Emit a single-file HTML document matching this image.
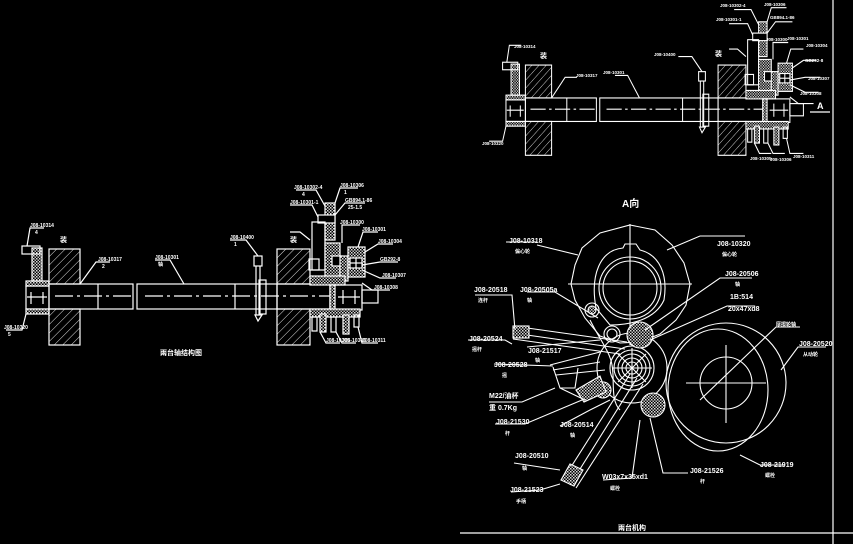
<!DOCTYPE html>
<html><head><meta charset="utf-8"><style>
html,body{margin:0;padding:0;background:#000;width:853px;height:544px;overflow:hidden}
svg{display:block}
text{font-family:"Liberation Sans","Noto Sans CJK SC",sans-serif;fill:#fff;font-weight:bold}
</style></head><body>
<svg width="853" height="544" viewBox="0 0 853 544" xmlns="http://www.w3.org/2000/svg">
<defs>
<pattern id="h" width="6" height="6" patternUnits="userSpaceOnUse" patternTransform="rotate(45)">
<line x1="0" y1="0" x2="0" y2="6" stroke="#fff" stroke-width="0.9"/></pattern>
<pattern id="x" width="3" height="3" patternUnits="userSpaceOnUse">
<rect width="3" height="3" fill="#000"/><rect width="1.5" height="1.5" fill="#ddd"/><rect x="1.5" y="1.5" width="1.5" height="1.5" fill="#bbb"/></pattern>
<g id="asm" stroke="#fff" stroke-width="1.2" fill="none">
<rect x="26" y="286" width="23" height="23"/>
<rect x="26" y="281" width="23" height="5" fill="url(#x)"/>
<rect x="26" y="309" width="23" height="5" fill="url(#x)"/>
<rect x="32" y="248" width="10" height="33" fill="url(#x)"/>
<rect x="22" y="246" width="18" height="8"/>
<line x1="31" y1="292" x2="31" y2="304"/><line x1="43" y1="292" x2="43" y2="304"/>
<line x1="27" y1="297" x2="47" y2="297"/>
<rect x="49" y="249" width="31" height="35" fill="url(#h)"/>
<rect x="49" y="309" width="31" height="36" fill="url(#h)"/>
<rect x="49" y="284" width="84" height="25"/>
<line x1="98" y1="284" x2="98" y2="309"/>
<rect x="137" y="284" width="140" height="25"/>
<line x1="235" y1="284" x2="235" y2="309"/>
<line x1="55" y1="296" x2="135" y2="296" stroke-dasharray="18 4 3 4"/>
<line x1="145" y1="296" x2="330" y2="296" stroke-dasharray="18 4 3 4"/>
<rect x="254" y="256" width="8" height="10"/>
<line x1="256" y1="266" x2="256" y2="315"/><line x1="260" y1="266" x2="260" y2="315"/>
<rect x="259" y="280" width="7" height="34"/>
<path d="M255 315 L262 315 L258 321 Z"/>
<rect x="277" y="249" width="33" height="35" fill="url(#h)"/>
<rect x="277" y="309" width="33" height="36" fill="url(#h)"/>
<rect x="277" y="284" width="53" height="25"/>
<rect x="325" y="203" width="10" height="37" fill="url(#x)"/>
<rect x="318" y="215" width="17" height="8" fill="#000"/>
<rect x="312" y="222" width="13" height="48"/>
<rect x="309" y="259" width="10" height="11"/>
<rect x="325" y="243" width="15" height="40" fill="url(#x)"/>
<rect x="332" y="256" width="10" height="10" fill="#000"/>
<rect x="340" y="256" width="8" height="25" fill="url(#x)"/>
<rect x="348" y="247" width="17" height="30" fill="url(#x)"/>
<rect x="350" y="258" width="12" height="10" fill="#000"/>
<line x1="356" y1="258" x2="356" y2="268"/><line x1="350" y1="263" x2="362" y2="263"/>
<rect x="310" y="276" width="35" height="9" fill="url(#x)"/>
<rect x="330" y="285" width="32" height="25"/>
<rect x="330" y="285" width="5" height="25" fill="url(#x)"/>
<rect x="362" y="290" width="16" height="13"/>
<line x1="343" y1="290" x2="343" y2="304"/><line x1="355" y1="290" x2="355" y2="304"/>
<line x1="338" y1="297" x2="360" y2="297"/>
<rect x="310" y="309" width="50" height="8" fill="url(#x)"/>
<rect x="312" y="317" width="5" height="14"/><rect x="320" y="314" width="6" height="18" fill="url(#x)"/>
<rect x="331" y="317" width="5" height="15"/><rect x="343" y="315" width="6" height="19" fill="url(#x)"/>
<rect x="354" y="315" width="5" height="12"/>
<path d="M26 314 L22 330 L6 330"/>
<path d="M27 246 L30 228 L44 228"/>
<path d="M80 284 L96 262 L110 262"/>
<path d="M184 284 L170 260 L155 260"/>
<path d="M258 256 L246 240 L230 240"/>
<path d="M325 206 L316 190 L296 190"/>
<path d="M318 217 L312 205 L290 205"/>
<path d="M335 203 L340 188 L358 188"/>
<path d="M335 215 L345 203 L365 203"/>
<path d="M342 243 L342 225 L360 225"/>
<path d="M358 247 L363 232 L378 232"/>
<path d="M365 252 L378 244 L393 244"/>
<path d="M362 265 L380 262 L398 262"/>
<path d="M362 270 L380 278 L396 278"/>
<path d="M362 283 L372 290 L390 290"/>
<path d="M320 332 L326 343 L340 343"/>
<path d="M336 332 L342 343 L356 343"/>
<path d="M358 327 L362 343 L378 343"/>
<path d="M310 240 L300 232 L290 232"/>
</g>
</defs>

<use href="#asm"/>
<g fill="#fff" font-size="5">
<text x="30" y="227">J08-10314</text><text x="35" y="234">4</text>
<text x="4" y="329">J08-10320</text><text x="8" y="336">5</text>
<text x="98" y="261">J08-10317</text><text x="102" y="268">2</text>
<text x="155" y="259">J08-10301</text><text x="158" y="266">轴</text>
<text x="230" y="239">J08-10400</text><text x="234" y="246">1</text>
<text x="294" y="189">J08-10302-4</text><text x="302" y="196">4</text>
<text x="290" y="204">J08-10301-1</text>
<text x="340" y="187">J08-10306</text><text x="344" y="194">1</text>
<text x="345" y="202">GB894.1-86</text><text x="348" y="209">25-1.5</text>
<text x="340" y="224">J08-10300</text><text x="362" y="231">J08-10301</text>
<text x="378" y="243">J08-10304</text><text x="380" y="261">GB292-8</text>
<text x="382" y="277">J08-10307</text><text x="374" y="289">J08-10308</text>
<text x="326" y="342">J08-10305</text><text x="342" y="342">J08-10306</text><text x="362" y="342">J08-10311</text>
<text x="60" y="242" font-size="7">装</text><text x="290" y="242" font-size="7">装</text>
<text x="160" y="355" font-size="7">兩台轴结构图</text>
</g>

<g transform="translate(484,-169) scale(0.845 0.94)"><use href="#asm"/></g>
<g fill="#fff" font-size="4.5">
<text x="514" y="48">J08-10314</text><text x="482" y="145">J08-10320</text>
<text x="576" y="77">J08-10317</text><text x="603" y="74">J08-10301</text>
<text x="654" y="56">J08-10400</text><text x="720" y="7">J08-10302-4</text>
<text x="716" y="21">J08-10301-1</text><text x="764" y="6">J08-10306</text>
<text x="770" y="19">GB894.1-86</text><text x="766" y="41">J08-10300</text>
<text x="787" y="40">J08-10301</text><text x="806" y="47">J08-10304</text>
<text x="805" y="62">GB292-8</text><text x="808" y="80">J08-10307</text>
<text x="800" y="95">J08-10308</text><text x="750" y="160">J08-10305</text>
<text x="770" y="161">J08-10306</text><text x="793" y="158">J08-10311</text>
<text x="540" y="58" font-size="7">装</text><text x="715" y="56" font-size="7">装</text>
</g>
<g stroke="#fff" fill="none" stroke-width="1.2">
<line x1="810" y1="112" x2="830" y2="112"/><text x="817" y="109" font-size="9" stroke="none">A</text>
<line x1="833" y1="0" x2="833" y2="544"/>
<line x1="460" y1="533" x2="853" y2="533"/>
</g>

<g stroke="#fff" fill="none" stroke-width="1.1">
<path d="M630 225 L655 230 L672 245 L684 263 L690 284 L686 305 L676 320 L660 334 L640 342 L620 343 L600 336 L585 318 L575 300 L571 284 L575 265 L582 248 L600 233 Z"/>
<line x1="630" y1="224" x2="630" y2="345"/>
<line x1="568" y1="284" x2="692" y2="284"/>
<circle cx="630" cy="288" r="31"/><circle cx="630" cy="288" r="27"/>
<path d="M596 308 C590 275 600 250 623 248 L625 244 L636 244 L640 250 C660 255 668 275 664 300 C655 320 630 325 610 325 Z"/>
<path d="M590 320 C600 340 610 352 612 365 C615 380 610 400 620 410"/>
<circle cx="726" cy="383" r="60"/>
<ellipse cx="718" cy="390" rx="50" ry="61"/>
<circle cx="726" cy="383" r="26"/>
<line x1="726" y1="345" x2="726" y2="423"/><line x1="686" y1="383" x2="766" y2="383"/>
<circle cx="632" cy="368" r="22"/><circle cx="632" cy="368" r="18"/><circle cx="632" cy="368" r="14"/>
<circle cx="632" cy="368" r="10"/><circle cx="632" cy="368" r="6"/><circle cx="632" cy="368" r="35"/>
<line x1="612" y1="368" x2="652" y2="368"/><line x1="632" y1="348" x2="632" y2="388"/>
<line x1="618" y1="354" x2="646" y2="382"/><line x1="646" y1="354" x2="618" y2="382"/>
<circle cx="640" cy="335" r="13" fill="url(#x)"/>
<circle cx="653" cy="405" r="12" fill="url(#x)"/>
<circle cx="592" cy="310" r="7"/><circle cx="592" cy="310" r="4" fill="url(#x)"/>
<circle cx="612" cy="334" r="8"/><circle cx="612" cy="334" r="5"/>
<circle cx="603" cy="390" r="8" fill="url(#x)"/>
<path d="M513 326 L627 342 M513 333 L625 349 M513 339 L620 354"/>
<rect x="513" y="326" width="16" height="12" fill="url(#x)"/>
<path d="M570 485 L637 378 M564 478 L630 374 M576 488 L643 384"/>
<path d="M561 480 L574 486 L583 470 L570 464 Z" fill="url(#x)"/>
<path d="M550 365 L600 352 M553 370 L600 362 M556 375 L605 370"/>
<path d="M553 367 L560 388 L575 388 L578 368"/>
<path d="M576 390 L600 376 L606 392 L584 402 Z" fill="url(#x)"/>
<path d="M560 388 L585 400"/>
<path d="M537 245 L578 255 M506 242 L537 242"/>
<path d="M667 250 L700 236 L745 236"/>
<path d="M645 330 L720 278 L752 278"/>
<path d="M650 340 L727 306 L755 306"/>
<path d="M700 400 L776 327 L800 327"/>
<path d="M781 370 L798 347 L826 347"/>
<path d="M740 455 L760 465 L785 465"/>
<path d="M475 295 L512 295 L515 330 M512 344 L505 340 L468 340"/>
<path d="M527 292 L555 292 L598 318"/>
<path d="M527 347 L600 340"/>
<path d="M494 364 L553 366"/>
<path d="M489 402 L522 402 L555 388"/>
<path d="M495 424 L525 424 L582 400"/>
<path d="M560 426 L590 410 L610 400"/>
<path d="M514 463 L540 467 L560 470"/>
<path d="M511 492 L540 490 L560 484"/>
<path d="M603 480 L632 478 L640 420"/>
<path d="M688 473 L663 473 L650 418"/>
</g>
<g fill="#fff" font-size="7">
<text x="622" y="207" font-size="10">A向</text>
<text x="509" y="243">J08-10318</text><text x="515" y="253" font-size="5">偏心轮</text>
<text x="717" y="246">J08-10320</text><text x="722" y="256" font-size="5">偏心轮</text>
<text x="725" y="276">J08-20506</text><text x="735" y="286" font-size="5">轴</text>
<text x="730" y="299">1B:514</text><text x="728" y="311">20x47xd8</text>
<text x="776" y="326" font-size="5">摩擦轮轴</text>
<text x="799" y="346">J08-20520</text><text x="803" y="356" font-size="5">从动轮</text>
<text x="474" y="292">J08-20518</text><text x="478" y="302" font-size="5">连杆</text>
<text x="520" y="292">J08-20505a</text><text x="527" y="302" font-size="5">轴</text>
<text x="469" y="341">J08-20524</text><text x="472" y="351" font-size="5">摇杆</text>
<text x="528" y="353">J08-21517</text><text x="535" y="362" font-size="5">轴</text>
<text x="494" y="367">J08-20528</text><text x="502" y="377" font-size="5">摇</text>
<text x="489" y="398">M22/油杯</text><text x="489" y="410">重 0.7Kg</text>
<text x="496" y="424">J08-21530</text><text x="505" y="435" font-size="5">杆</text>
<text x="560" y="427">J08-20514</text><text x="570" y="437" font-size="5">轴</text>
<text x="515" y="458">J08-20510</text><text x="522" y="470" font-size="5">轴</text>
<text x="510" y="492">J08-21523</text><text x="516" y="503" font-size="5">手柄</text>
<text x="602" y="479">W03x7x35xd1</text><text x="610" y="490" font-size="5">螺栓</text>
<text x="690" y="473">J08-21526</text><text x="700" y="483" font-size="5">杆</text>
<text x="760" y="467">J08-21919</text><text x="765" y="477" font-size="5">螺栓</text>
<text x="618" y="530" font-size="7">兩台机构</text>
</g>
</svg>
</body></html>
